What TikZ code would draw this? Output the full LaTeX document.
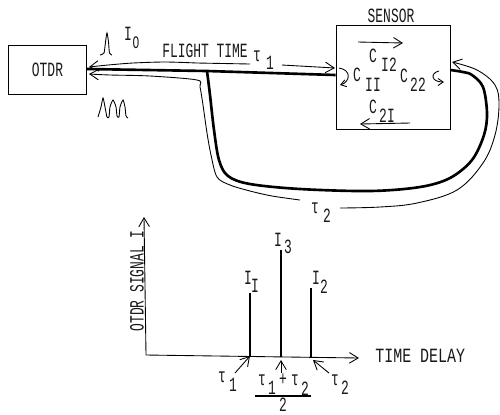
\documentclass[tikz,border=0pt]{standalone}
\usepackage{fontspec}
\setmainfont{Liberation Mono}
\usetikzlibrary{arrows.meta}
\newcommand{\T}[1]{\scalebox{.64}[1]{#1}}
\tikzset{
  lab/.style={inner sep=0pt,font=\fontsize{11.5}{13}\selectfont,text=black!90},
  boxnode/.style={draw,line width=.5pt,inner sep=0pt,font=\fontsize{11.5}{13}\selectfont,text=black!90},
  fibre/.style={line width=1.5pt,line join=round},
  thin line/.style={line width=.5pt},
  spike/.style={line width=.7pt},
  barb/.style={thin line,-{Straight Barb[length=5pt,width=6pt]}},
}
\begin{document}
\begin{tikzpicture}[x=0.02cm,y=-0.02cm]
\useasboundingbox (0,0) rectangle (500,414);
% boxes
\node[boxnode,minimum width=78*0.02cm,minimum height=49*0.02cm] (otdr) at (47.5,70) {\T{OTDR}};
\node[boxnode,minimum width=114*0.02cm,minimum height=104*0.02cm] (sensor) at (393,77) {};
\node[lab] (sensortitle) at (391,16) {\T{SENSOR}};
\coordinate (oF) at (otdr.east |- 0,69);
\coordinate (sL) at (sensor.west |- 0,75);
\coordinate (sR) at (sensor.east |- 0,70);
\coordinate (oT) at (89,67);
\coordinate (oB) at (89,74);
\coordinate (sLa) at (335,68);
\coordinate (sRa) at (452,62);
\coordinate (branch) at (207,71);
% thick fibre
\draw[fibre] (oF) -- (branch) -- (sL);
\draw[fibre] plot[smooth,tension=.55] coordinates {(branch) (210,95) (214,130) (219,160) (228,176) (250,184) (300,189) (370,191) (420,187) (450,178) (472,160) (484,135) (487,113) (483,87) (472,75) (463,72) (sR)};
% thin signal paths
\draw[barb] plot[smooth,tension=.5] coordinates {(197,63) (165,62) (133,63) (108,65) (oT)};
\draw[thin line] (250,64) -- (197,63);
\draw[barb] (282,65) -- (sLa);
\draw[barb] plot[smooth,tension=.5] coordinates {(300,200) (272,196) (250,191) (230,185) (217,177) (211,155) (207,133) (203,105) (200,87) (197,80) (150,76) (110,75) (oB)};
\draw[barb] plot[smooth,tension=.6] coordinates {(340,208) (380,207) (417,203) (457,190) (483,163) (495,135) (499,105) (495,85) (477,70) (sRa)};
% labels upper
\node[lab] (ft) at (205,51) {\T{FLIGHT TIME}};
\node[lab] (t1a) at (257,56) {\T{τ}};
\node[lab] (t1b) at (270,63) {\T{1}};
\node[lab] (t2a) at (315,208) {\T{τ}};
\node[lab] (t2b) at (327,216) {\T{2}};
\node[lab] (i0a) at (128,34) {\T{I}};
\node[lab,font=\fontsize{10}{11}\selectfont] (i0b) at (136,43) {\T{O}};
% pulses
\draw[thin line] plot[smooth,tension=.4] coordinates {(100,55) (104,53) (105.5,42) (107,33) (108.5,42) (109.5,53) (112,55)};
\draw[thin line] plot[smooth,tension=.4] coordinates {(98,117) (101,107) (103,98) (105,107) (107,117) (109,117) (110,107) (113,100) (116,107) (117,116) (119,117) (120,107) (123,100) (125,107) (126,116) (128,118)};
% sensor contents
\coordinate (c12s) at (358,42); \coordinate (c12e) at (403,43);
\coordinate (c21s) at (410,123); \coordinate (c21e) at (360,124);
\draw[barb] (c12s) -- (c12e);
\draw[barb] (c21s) -- (c21e);
\node[lab] (c12a) at (373,56) {\T{C}};
\node[lab] (c12b) at (389,65) {\T{I2}};
\node[lab] (c11a) at (357,75) {\T{C}};
\node[lab] (c11b) at (373,85) {\T{II}};
\node[lab] (c22a) at (404,76) {\T{C}};
\node[lab] (c22b) at (418,85) {\T{22}};
\node[lab] (c21a) at (373,107) {\T{C}};
\node[lab] (c21b) at (387,116) {\T{2I}};
\coordinate (l1) at (339,68); \coordinate (l2) at (340,85);
\coordinate (r1) at (439,71); \coordinate (r2) at (444,82);
\draw[thin line,-{Straight Barb[length=3pt,width=4pt]}] (l1) .. controls (352,70) and (350,82) .. (l2);
\draw[thin line,-{Straight Barb[length=3pt,width=4pt]}] (r1) .. controls (430,73) and (431,82) .. (r2);
% plot
\coordinate (origin) at (146,355);
\coordinate (ytop) at (144,217);
\coordinate (xend) at (359,358);
\draw[barb] (origin) -- (ytop);
\draw[barb] (origin) -- (xend);
\coordinate (s1b) at (250,356); \coordinate (s1t) at (250,293);
\coordinate (s3b) at (281,357); \coordinate (s3t) at (281,250);
\coordinate (s2b) at (311,357); \coordinate (s2t) at (311,288);
\draw[spike] (s1b) -- (s1t);
\draw[spike] (s3b) -- (s3t);
\draw[spike] (s2b) -- (s2t);
\node[lab,rotate=90] (ylab) at (137,281) {\T{OTDR SIGNAL I}};
\node[lab,anchor=west] (xlab) at (375,356) {\scalebox{.74}[1]{TIME DELAY}};
\node[lab] (i1a) at (248,278) {\T{I}};
\node[lab] (i1b) at (255,286) {\T{I}};
\node[lab] (i3a) at (278,240) {\T{I}};
\node[lab] (i3b) at (288,247) {\T{3}};
\node[lab] (i2a) at (316,278) {\T{I}};
\node[lab] (i2b) at (324,287) {\T{2}};
\node[lab] (ta1) at (222,377) {\T{τ}};
\node[lab] (tb1) at (233,385) {\T{1}};
\node[lab] (tc1) at (262,380) {\T{τ}};
\node[lab] (tc2) at (272,388) {\T{1}};
\node[lab] (tplus) at (283,380) {\T{+}};
\node[lab] (tc3) at (295,380) {\T{τ}};
\node[lab] (tc4) at (305,389) {\T{2}};
\node[lab] (te1) at (335,380) {\T{τ}};
\node[lab] (te2) at (345,388) {\T{2}};
\node[lab] (two) at (283,405) {\T{2}};
\coordinate (fa) at (255,396); \coordinate (fb) at (311,396);
\draw[spike] (fa) -- (fb);
\coordinate (a1) at (235,373); \coordinate (a2) at (281,373); \coordinate (a3) at (329,373);
\draw[barb] (a1) -- (s1b);
\draw[barb] (a2) -- (281,360);
\draw[barb] (a3) -- (313,360);
\end{tikzpicture}
\end{document}
